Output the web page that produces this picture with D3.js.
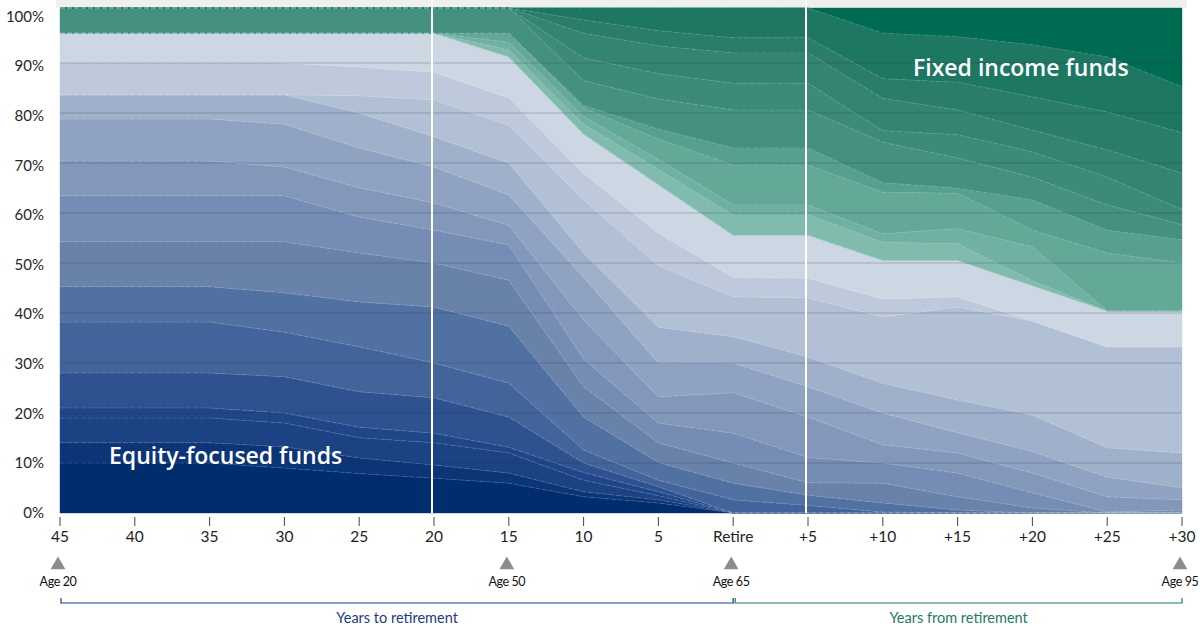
<!DOCTYPE html>
<html><head><meta charset="utf-8">
<script src="https://cdn.jsdelivr.net/npm/d3@7"></script>
<style>
html,body{margin:0;padding:0;background:#fff;}
svg{display:block;font-family:Lato,"Open Sans",sans-serif;}
</style></head><body>
<svg id="chart" width="1200" height="630"></svg>
<script>
// ---- categories / tick labels ----
const xLabels = ["45","40","35","30","25","20","15","10","5","Retire","+5","+10","+15","+20","+25","+30"];
const yTicks = [0,10,20,30,40,50,60,70,80,90,100];
const ageLabels = ["Age 20","Age 50","Age 65","Age 95"];
const agePositions = ["45","15","Retire","+30"];
const dividerPositions = ["20","+5"];

// ---- equity-focused fund layers (bottom -> top), % of portfolio ----
const equity01 = [9.9,9.9,9.9,8.9,7.8,6.9,5.9,3.2,2.0,0,0,0,0,0,0,0];
const equity02 = [4.0,4.0,4.0,4.2,3.1,2.6,2.0,1.0,0.6,0,0,0,0,0,0,0];
const equity03 = [4.9,4.9,4.9,4.7,4.0,4.4,4.0,2.3,0.8,0,0,0,0,0,0,0];
const equity04 = [2.0,2.0,2.0,2.0,2.1,1.9,1.1,1.5,0.8,0,0,0,0,0,0,0];
const equity05 = [6.9,6.9,6.9,7.2,7.0,7.0,6.0,1.9,1.0,0,0,0,0,0,0,0];
const equity06 = [10.1,10.1,10.1,8.8,8.9,6.9,6.7,2.6,1.3,2.6,1.5,0.2,0,0,0,0];
const equity07 = [7.0,7.0,7.0,7.8,8.9,11.1,11.3,6.5,3.5,3.3,2.0,1.8,0.6,0,0,0];
const equity08 = [8.9,8.9,8.9,10.1,9.7,8.7,9.1,6.0,3.9,4.0,2.5,3.9,2.6,1.0,0,0];
const equity09 = [9.1,9.1,9.1,9.1,7.1,6.5,7.0,5.5,3.9,5.9,5.0,4.0,4.7,3.0,0.2,0.6];
const equity10 = [6.9,6.9,6.9,5.7,5.8,5.4,3.9,7.7,5.2,8.0,8.0,3.6,4.0,3.9,3.0,2.0];
const equity11 = [8.3,8.3,8.3,8.5,7.9,7.1,6.0,8.5,6.7,5.9,6.0,6.3,4.0,4.3,3.9,2.4];
const equity12 = [4.8,4.8,4.8,5.8,6.9,6.0,6.3,4.8,7.1,5.2,5.9,5.9,6.5,7.2,5.8,6.9];
const equity13 = [0,0,0,0,3.4,7.3,7.5,10.5,12.2,7.9,11.7,13.1,18.4,18.6,20.0,21.0];
const equity14 = [6.3,6.3,6.3,6.3,5.7,5.5,5.4,5.3,6.4,3.9,3.9,3.6,2.0,0,0,0];
const equity15 = [5.9,5.9,5.9,5.9,6.7,7.7,8.1,7.7,9.6,8.3,8.5,7.6,7.2,7.0,7.1,7.1];

// ---- fixed income fund layers (bottom -> top) ----
const fixed01 = [0,0,0,0,0,0,1.4,2.0,3.0,4.0,4.0,3.6,3.3,1.0,0,0];
const fixed02 = [0,0,0,0,0,0,1.5,1.5,2.0,2.0,2.0,1.7,3.0,6.7,0,0];
const fixed03 = [0,0,0,0,0,0,1.8,1.7,4.0,7.9,7.9,8.2,7.0,3.3,11.5,9.5];
const fixed04 = [0,0,0,0,0,0,0,0.5,2.0,3.4,3.4,1.9,1.0,6.0,4.5,4.6];
const fixed05 = [5,5,5,5,5,5,5.0,4.9,6.0,7.5,7.5,8.0,6.0,4.5,5.0,3.0];
const fixed06 = [0,0,0,0,0,0,0,4.5,5.0,5.3,5.3,2.3,4.6,5.0,5.5,3.0];
const fixed07 = [0,0,0,0,0,0,0,4.9,5.5,6.0,6.0,6.4,4.9,4.3,5.4,7.2];
const fixed08 = [0,0,0,0,0,0,0,2.6,3.0,3.0,3.0,3.9,5.5,6.6,7.5,8.0];
const fixed09 = [0,0,0,0,0,0,0,2.4,4.5,5.9,5.9,9.0,9.0,10.3,10.9,9.1];
const fixed10 = [0,0,0,0,0,0,0,0,0,0,0,5.0,5.7,7.3,9.7,15.6];

const equitySeries = [equity01,equity02,equity03,equity04,equity05,equity06,equity07,equity08,equity09,equity10,equity11,equity12,equity13,equity14,equity15];
const fixedSeries = [fixed01,fixed02,fixed03,fixed04,fixed05,fixed06,fixed07,fixed08,fixed09,fixed10];

const equityColors = ["#002d6e","#0b3576","#1b4282","#20468a","#2d528f","#43649a","#5271a3","#6882aa","#758db4","#8297ba","#8fa2c2","#9fb0ca","#b1c0d5","#bec9db","#cdd6e3"];
const fixedColors = ["#80bbae","#71b1a3","#64a898","#57a08f","#45917f","#3c8a79","#338472","#297d6a","#1d7762","#006b53"];

// ---- build table for d3.stack ----
const keys = [];
const colors = {};
equitySeries.forEach((s,i)=>{const k="e"+i; keys.push(k); colors[k]=equityColors[i];});
fixedSeries.forEach((s,i)=>{const k="f"+i; keys.push(k); colors[k]=fixedColors[i];});
const table = xLabels.map((lab,j)=>{
  const row = {label:lab};
  equitySeries.forEach((s,i)=>row["e"+i]=s[j]);
  fixedSeries.forEach((s,i)=>row["f"+i]=s[j]);
  return row;
});
const stacked = d3.stack().keys(keys)(table);

const svg = d3.select("#chart");
const x = d3.scalePoint().domain(xLabels).range([60,1182]);
const y = d3.scaleLinear().domain([0,100]).range([513,8]);
const yGrid = d3.scaleLinear().domain([0,100]).range([513,13]);
const yLab = d3.scaleLinear().domain([0,100]).range([514,18]);

// top grey band
svg.append("rect").attr("x",56).attr("y",0).attr("width",1131).attr("height",8).attr("fill","#efefef");

const area = d3.area().x(d=>x(d.data.label)).y0(d=>y(d[0])).y1(d=>y(d[1])).curve(d3.curveLinear);
const g = svg.append("g");
g.selectAll("path.layer").data(stacked).join("path")
  .attr("class","layer")
  .attr("d",area)
  .attr("fill",d=>colors[d.key])
  .attr("stroke",d=>colors[d.key]).attr("stroke-width",0.4);

// layer separator lines
const topLine = d3.line().x(d=>x(d.data.label)).y(d=>y(d[1]));
g.selectAll("path.sep").data(stacked.slice(0,-1)).join("path")
  .attr("class","sep").attr("d",topLine).attr("fill","none")
  .attr("stroke","rgba(255,255,255,0.22)").attr("stroke-width",0.7)
  .attr("stroke-dasharray","5 2");

// horizontal grid lines
svg.append("g").selectAll("line").data(yTicks.filter(t=>t>0&&t<100)).join("line")
  .attr("x1",60).attr("x2",1182).attr("y1",d=>yGrid(d)).attr("y2",d=>yGrid(d))
  .attr("stroke","rgba(35,50,80,0.13)").attr("stroke-width",1.8);

// vertical white dividers
svg.append("g").selectAll("line").data(dividerPositions).join("line")
  .attr("x1",d=>x(d)-2).attr("x2",d=>x(d)-2).attr("y1",0).attr("y2",513)
  .attr("stroke","#fff").attr("stroke-width",2);

// y labels
svg.append("g").selectAll("text").data(yTicks).join("text")
  .attr("x",44).attr("y",d=>yLab(d)).attr("text-anchor","end").attr("dominant-baseline","middle")
  .attr("font-size",15).attr("fill","#262626").text(d=>d+"%");

// x axis ticks & labels
const xa = svg.append("g");
xa.selectAll("line").data(xLabels).join("line")
  .attr("x1",d=>x(d)).attr("x2",d=>x(d)).attr("y1",517).attr("y2",526)
  .attr("stroke","#444").attr("stroke-width",1);
xa.selectAll("text").data(xLabels).join("text")
  .attr("x",d=>x(d)).attr("y",538).attr("text-anchor","middle").attr("dominant-baseline","middle")
  .attr("font-size",15.5).attr("fill","#1e1e1e").text(d=>d);

// age markers
const am = svg.append("g");
agePositions.forEach((p,i)=>{
  const cx = x(p)-2;
  am.append("path").attr("d",d3.symbol(d3.symbolTriangle,95)()).attr("transform",`translate(${cx},565)`).attr("fill","#8c8c8c");
  am.append("text").attr("x",cx).attr("y",583).attr("text-anchor","middle").attr("dominant-baseline","middle")
    .attr("font-size",12.5).attr("fill","#111").attr("letter-spacing","-0.4").text(ageLabels[i]);
});

// brackets
function bracket(x1,x2,color,label){
  const b = svg.append("g");
  b.append("path").attr("d",`M${x1},598V603H${x2}V598`).attr("fill","none").attr("stroke",color).attr("stroke-width",1.2);
  b.append("text").attr("x",(x1+x2)/2).attr("y",619).attr("text-anchor","middle").attr("dominant-baseline","middle")
    .attr("font-size",14.5).attr("fill",color).text(label);
}
bracket(x("45")+1, x("Retire"), "#1c3c7e", "Years to retirement");
bracket(x("Retire")+2, x("+30"), "#237a62", "Years from retirement");

// annotations
svg.append("text").attr("x",109).attr("y",458).attr("dominant-baseline","middle")
  .attr("font-family","'Open Sans',Lato,sans-serif")
  .attr("font-size",23).attr("font-weight",600).attr("fill","#fff").text("Equity-focused funds");
svg.append("text").attr("x",913).attr("y",70).attr("dominant-baseline","middle")
  .attr("font-family","'Open Sans',Lato,sans-serif")
  .attr("font-size",23).attr("font-weight",600).attr("fill","#fff").text("Fixed income funds");
</script>
</body></html>
